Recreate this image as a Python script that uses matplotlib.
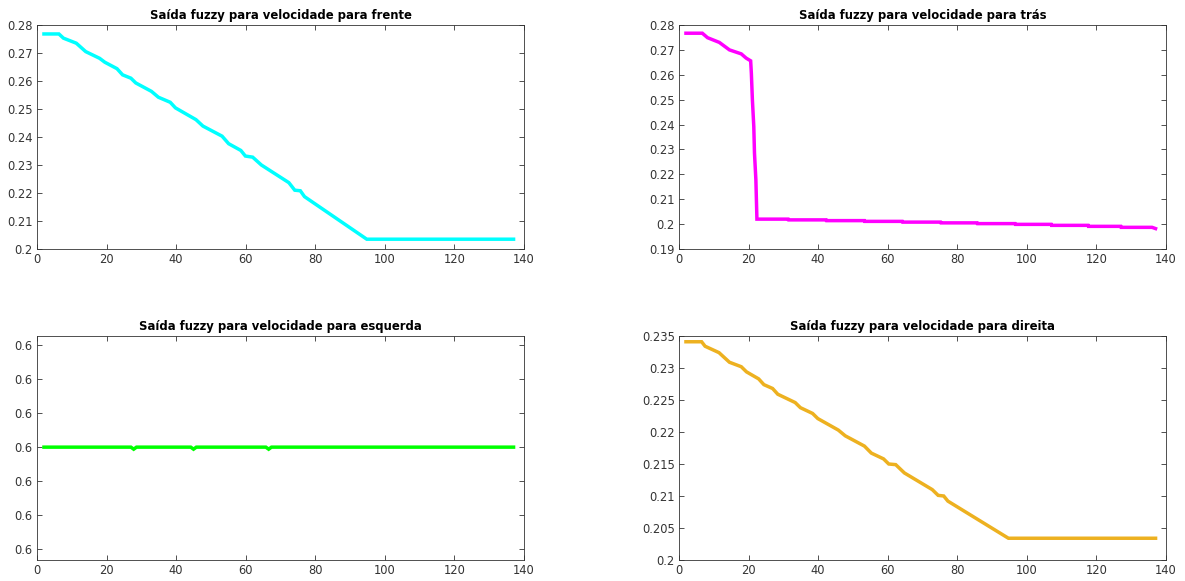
import numpy as np
import matplotlib
matplotlib.use('Agg')
import matplotlib.pyplot as plt
from matplotlib.ticker import FormatStrFormatter

# velocidade para frente (breakpoints)
x_frente = [2, 6.3, 7.6, 11.3, 14, 18, 19.5, 23, 24.6, 27, 28.4, 32.9, 34.9, 38.3, 39.8,
            45.7, 47.7, 53.2, 55.1, 58.6, 59.9, 62, 64.5, 72.4, 74.1, 75.7, 76.9, 94.8, 137]
y_frente = [0.2768, 0.2768, 0.2753, 0.2735, 0.2705, 0.2681, 0.2667, 0.2644, 0.2622, 0.2610,
            0.2593, 0.2563, 0.2542, 0.2524, 0.2504, 0.2462, 0.2439, 0.2403, 0.2376, 0.2352,
            0.2332, 0.2328, 0.2300, 0.2237, 0.2210, 0.2208, 0.2187, 0.2035, 0.2035]

# velocidade para tras
x_tras = [2, 6.7, 8.2, 11.6, 14.5, 17.9, 19.3, 20.6, 20.8, 21.1, 21.5, 21.7, 22.1, 22.4,
          31.4, 31.5, 42.3, 42.4, 53.3, 53.4, 64.2, 64.3, 75.2, 75.3, 85.7, 85.8,
          96.6, 96.7, 107, 107.1, 117.6, 117.7, 127, 127.1, 136, 137]
y_tras = [0.2767, 0.2767, 0.2749, 0.2730, 0.2700, 0.2684, 0.2667, 0.2656, 0.2606, 0.2499,
          0.2392, 0.2285, 0.2178, 0.2020, 0.2020, 0.2017, 0.2017, 0.2014, 0.2014, 0.2011,
          0.2011, 0.2008, 0.2008, 0.2005, 0.2005, 0.2002, 0.2002, 0.1999, 0.1999, 0.1995,
          0.1995, 0.1991, 0.1991, 0.1987, 0.1987, 0.1982]

# velocidade para esquerda (constant 0.6, tiny dips)
x_esq = [2, 27, 27.8, 28.6, 44.2, 45.0, 45.8, 65.8, 66.6, 67.4, 137]
y_esq = [0.6, 0.6, 0.6 - 6e-8, 0.6, 0.6, 0.6 - 6e-8, 0.6, 0.6, 0.6 - 6e-8, 0.6, 0.6]
esq_ticks = [0.6 + k * 1e-6 for k in range(-3, 4)]

# velocidade para direita
x_dir = [2, 6.5, 7.5, 11.5, 14.5, 17.9, 19.4, 22.9, 24.4, 26.9, 28.4, 33.4, 34.9, 38.4,
         39.9, 45.8, 47.8, 53.3, 55.3, 58.8, 60.3, 62.3, 64.8, 72.8, 74.5, 76.1, 77.3, 94.7, 137]
y_dir = [0.2341, 0.2341, 0.2334, 0.2324, 0.2309, 0.2302, 0.2294, 0.2283, 0.2274, 0.2268,
         0.2259, 0.2246, 0.2238, 0.2229, 0.2221, 0.2203, 0.2194, 0.2178, 0.2167, 0.2158,
         0.2150, 0.2149, 0.2136, 0.2110, 0.2101, 0.2100, 0.2092, 0.2034, 0.2034]

titles = ['Saída fuzzy para velocidade para frente',
          'Saída fuzzy para velocidade para trás',
          'Saída fuzzy para velocidade para esquerda',
          'Saída fuzzy para velocidade para direita']

fig = plt.figure(figsize=(11.85, 5.81), dpi=100)
W, H = 1185, 581
boxes = [(37, 25), (679, 25), (37, 336), (679, 336)]
axes = []
for (l, t) in boxes:
    ax = fig.add_axes([l / W, 1 - (t + 224) / H, 487 / W, 224 / H])
    axes.append(ax)

datasets = [(x_frente, y_frente, '#00ffff'),
            (x_tras, y_tras, '#ff00ff'),
            (x_esq, y_esq, '#00ff00'),
            (x_dir, y_dir, '#edb120')]

for ax, (x, y, c), title in zip(axes, datasets, titles):
    ax.plot(x, y, color=c, linewidth=2.5, solid_joinstyle='miter')
    ax.set_xlim(0, 140)
    ax.set_xticks(np.arange(0, 141, 20))
    ax.set_title(title, fontsize=8.4, fontweight='bold', pad=4)
    ax.tick_params(direction='in', top=True, right=True, length=3.5, width=0.6,
                   labelsize=8.3, colors='#333333', pad=3)
    for s in ax.spines.values():
        s.set_color('#333333')
        s.set_linewidth(0.6)

axes[0].set_ylim(0.2, 0.28)
axes[0].set_yticks(np.arange(0.2, 0.2801, 0.01))
axes[0].set_yticklabels(['%g' % round(v, 2) for v in np.arange(0.2, 0.2801, 0.01)])

axes[1].set_ylim(0.19, 0.28)
axes[1].set_yticks(np.arange(0.19, 0.2801, 0.01))
axes[1].set_yticklabels(['%g' % round(v, 2) for v in np.arange(0.19, 0.2801, 0.01)])

axes[2].set_ylim(0.6 - 3.31e-6, 0.6 + 3.26e-6)
axes[2].set_yticks(esq_ticks)
axes[2].yaxis.set_major_formatter(FormatStrFormatter('%.1f'))

axes[3].set_ylim(0.2, 0.235)
axes[3].set_yticks(np.arange(0.2, 0.2351, 0.005))
axes[3].set_yticklabels(['%g' % round(v, 3) for v in np.arange(0.2, 0.2351, 0.005)])

fig.savefig('out.png', dpi=100)
